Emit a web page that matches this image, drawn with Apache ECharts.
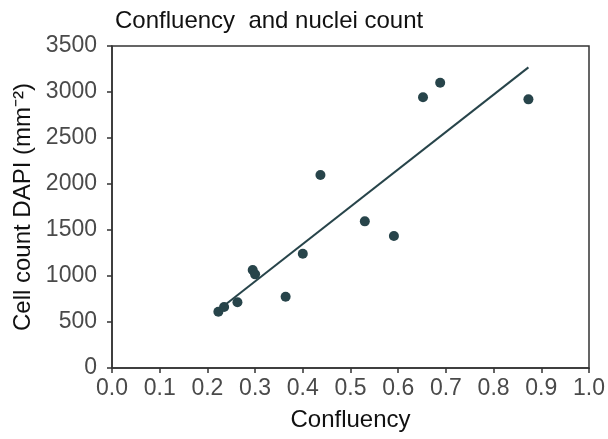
<!DOCTYPE html>
<html>
<head>
<meta charset="utf-8">
<script src="https://cdn.jsdelivr.net/npm/echarts@6/dist/echarts.min.js"></script>
<style>
html,body{margin:0;padding:0;background:#fff;}
#chart{width:608px;height:439px;}
</style>
</head>
<body>
<div id="chart"></div>
<script>
// Data
const confluency = [0.223, 0.235, 0.263, 0.295, 0.300, 0.364, 0.400, 0.437, 0.530, 0.591, 0.652, 0.688, 0.873];
const cellCount  = [612, 663, 714, 1065, 1018, 775, 1242, 2098, 1594, 1435, 2942, 3101, 2920];
const fitX = [0.228, 0.873];
const fitY = [649, 3268];
const xTicks = ['0.0','0.1','0.2','0.3','0.4','0.5','0.6','0.7','0.8','0.9','1.0'];
const yTicks = ['0','500','1000','1500','2000','2500','3000','3500'];

const points = confluency.map((x, i) => [x, cellCount[i]]);
const fitLine = fitX.map((x, i) => [x, fitY[i]]);

const FONT = 'Liberation Sans, Arial, sans-serif';
const COL = '#27444a';
const chart = echarts.init(document.getElementById('chart'), null, {renderer: 'canvas'});
chart.setOption({
  animation: false,
  backgroundColor: '#fff',
  title: {
    text: 'Confluency  and nuclei count',
    left: 110, top: 4,
    textStyle: {fontFamily: FONT, fontSize: 24, fontWeight: 'normal', color: '#111'}
  },
  grid: {left: 112, top: 46, right: 19, bottom: 71, show: true, borderColor: '#333', borderWidth: 1.5},
  xAxis: {
    type: 'value', min: 0, max: 1, interval: 0.1,
    name: 'Confluency', nameLocation: 'middle', nameGap: 40,
    nameTextStyle: {fontFamily: FONT, fontSize: 24, color: '#111'},
    axisLine: {show: true, lineStyle: {color: '#333', width: 1.5}},
    axisTick: {show: true, length: 5, lineStyle: {color: '#333', width: 1.5}},
    axisLabel: {fontFamily: FONT, fontSize: 23, color: '#4a4a4a', margin: 9,
      formatter: (v) => xTicks[Math.round(v * 10)]},
    splitLine: {show: false}
  },
  yAxis: {
    type: 'value', min: 0, max: 3500, interval: 500,
    name: 'Cell count DAPI (mm⁻²)', nameLocation: 'middle', nameGap: 74,
    nameTextStyle: {fontFamily: FONT, fontSize: 24, color: '#111'},
    axisLine: {show: true, lineStyle: {color: '#333', width: 1.5}},
    axisTick: {show: true, length: 5, lineStyle: {color: '#333', width: 1.5}},
    axisLabel: {fontFamily: FONT, fontSize: 23, color: '#4a4a4a', margin: 15,
      formatter: (v) => yTicks[Math.round(v / 500)]},
    splitLine: {show: false}
  },
  series: [
    {
      type: 'line', data: fitLine, symbol: 'none', silent: true,
      lineStyle: {color: COL, width: 2}
    },
    {
      type: 'scatter', data: points, symbolSize: 10,
      itemStyle: {color: COL, opacity: 1}
    }
  ]
});
</script>
</body>
</html>
